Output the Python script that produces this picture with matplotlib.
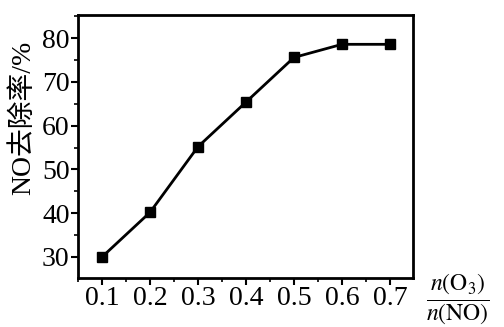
import matplotlib
matplotlib.use("Agg")
import matplotlib.pyplot as plt
from matplotlib.ticker import MultipleLocator

ratio = [0.1, 0.2, 0.3, 0.4, 0.5, 0.6, 0.7]
removal = [30.0, 40.2, 55.2, 65.4, 75.6, 78.6, 78.6]
xticks = [0.1, 0.2, 0.3, 0.4, 0.5, 0.6, 0.7]
yticks = [30, 40, 50, 60, 70, 80]

plt.rcParams['mathtext.fontset'] = 'stix'
fig = plt.figure(figsize=(5.04, 3.27), dpi=100)
ax = fig.add_axes([78/504, 1 - 278/327, (413-78)/504, (278-15)/327])

ax.plot(ratio, removal, color='black', lw=2.0, marker='s', ms=6.5, mfc='black', mec='black')
ax.set_xlim(0.05, 0.748)
ax.set_ylim(25.2, 85.3)
ax.set_xticks(xticks)
ax.set_xticklabels([f"{v:.1f}" for v in xticks])
ax.set_yticks(yticks)
ax.set_yticklabels([str(v) for v in yticks])
ax.xaxis.set_minor_locator(MultipleLocator(0.05))
ax.yaxis.set_minor_locator(MultipleLocator(5))
ax.tick_params(which='major', direction='out', length=5, width=1.5, labelsize=20, pad=1)
ax.tick_params(which='minor', direction='out', length=3, width=1.2)
for lab in ax.get_xticklabels() + ax.get_yticklabels():
    lab.set_family(['Liberation Serif'])
for s in ax.spines.values():
    s.set_linewidth(2.0)

ax.set_ylabel('NO去除率/%', fontsize=20, family=['Liberation Serif', 'Noto Sans CJK SC'], labelpad=0)
ax.yaxis.set_label_coords(-42/335, 0.61)
fig.text(458/504, 1 - 299/327, r'$\dfrac{n(\mathrm{O_3})}{n(\mathrm{NO})}$', fontsize=17,
         ha='center', va='center')

fig.savefig('out.png', dpi=100)
